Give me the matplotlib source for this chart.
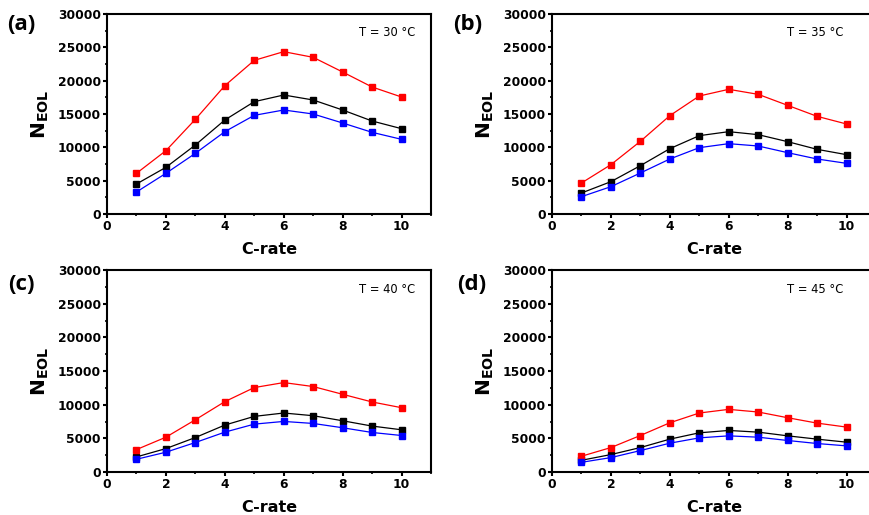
import numpy as np
import matplotlib
matplotlib.use("Agg")
from matplotlib import pyplot as plt
from matplotlib.ticker import MultipleLocator

# C-rate values (same for every panel)
c_rate = [1, 2, 3, 4, 5, 6, 7, 8, 9, 10]

# N_EOL (red, black, blue series)
red_30 = [6100, 9500, 14200, 19250, 23050, 24350, 23500, 21300, 19050, 17550]
black_30 = [4500, 7000, 10350, 14100, 16850, 17850, 17100, 15600, 13950, 12800]
blue_30 = [3300, 6100, 9100, 12350, 14800, 15600, 15000, 13650, 12250, 11200]

red_35 = [4650, 7400, 10900, 14750, 17700, 18700, 17950, 16300, 14650, 13500]
black_35 = [3150, 4850, 7250, 9800, 11750, 12350, 11900, 10850, 9700, 8900]
blue_35 = [2600, 4100, 6150, 8250, 9950, 10550, 10200, 9200, 8250, 7600]

red_40 = [3330, 5170, 7760, 10450, 12540, 13280, 12690, 11540, 10400, 9550]
black_40 = [2240, 3480, 5120, 6970, 8260, 8760, 8360, 7610, 6820, 6270]
blue_40 = [1890, 2940, 4380, 5920, 7110, 7510, 7210, 6570, 5870, 5420]

red_45 = [2340, 3630, 5420, 7310, 8760, 9300, 8910, 8060, 7260, 6670]
black_45 = [1740, 2590, 3630, 4880, 5820, 6170, 5920, 5370, 4880, 4430]
blue_45 = [1440, 2140, 3180, 4280, 5070, 5370, 5170, 4680, 4230, 3880]

panel_labels = ["(a)", "(b)", "(c)", "(d)"]
temps = ["T = 30 \u00b0C", "T = 35 \u00b0C", "T = 40 \u00b0C", "T = 45 \u00b0C"]
panels = [(red_30, black_30, blue_30), (red_35, black_35, blue_35),
          (red_40, black_40, blue_40), (red_45, black_45, blue_45)]

W, H = 870, 515
fig = plt.figure(figsize=(8.7, 5.15), dpi=100)

# axes boxes in pixels: left, top, right, bottom
boxes = [(107, 14, 431, 214), (552, 14, 876, 214),
         (107, 270, 431, 472), (552, 270, 876, 472)]
label_pos = [(21, 25), (468, 25), (21, 284), (472, 284)]
temp_x = [0.95, 0.9, 0.95, 0.9]  # right panels run past the figure edge

for i, (l, t, r, b) in enumerate(boxes):
    ax = fig.add_axes([l / W, 1 - b / H, (r - l) / W, (b - t) / H])
    red, black, blue = panels[i]
    ax.plot(c_rate, black, color="black", lw=0.9, marker="s", ms=4.8)
    ax.plot(c_rate, red, color="#ff0000", lw=0.9, marker="s", ms=4.8)
    ax.plot(c_rate, blue, color="#0000ff", lw=0.9, marker="s", ms=4.8)
    ax.set_xlim(0, 11)
    ax.set_ylim(0, 30000)
    ax.xaxis.set_major_locator(MultipleLocator(2))
    ax.xaxis.set_minor_locator(MultipleLocator(1))
    ax.yaxis.set_major_locator(MultipleLocator(5000))
    ax.yaxis.set_minor_locator(MultipleLocator(2500))
    for s in ax.spines.values():
        s.set_linewidth(1.5)
    ax.tick_params(which="major", length=3, width=1.5, pad=1.5)
    ax.tick_params(which="minor", length=1.5, width=1.2)
    for lab in ax.get_xticklabels() + ax.get_yticklabels():
        lab.set_fontweight("bold")
        lab.set_fontsize(8.8)
    ax.set_xlabel("C-rate", fontsize=11.5, fontweight="bold", labelpad=6)
    ax.set_ylabel(r"$\mathbf{N_{EOL}}$", fontsize=14.5, labelpad=5)
    ax.text(temp_x[i], 0.905, temps[i], transform=ax.transAxes,
            fontsize=8.3, ha="right", va="center")
    fig.text(label_pos[i][0] / W, 1 - label_pos[i][1] / H, panel_labels[i],
             fontsize=16, fontweight="bold", family="Open Sans", ha="center", va="center")

fig.savefig("out.png", dpi=100)
